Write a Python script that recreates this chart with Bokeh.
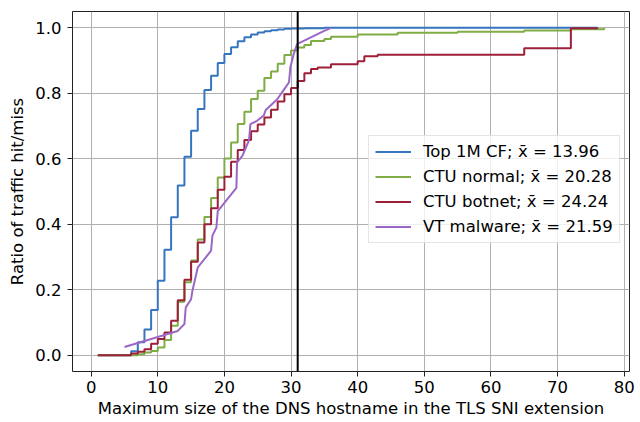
from bokeh.plotting import figure
from bokeh.models import Range1d, FixedTicker, PrintfTickFormatter, Span
from bokeh.embed import file_html
from bokeh.resources import INLINE

# ---- data ----
blue_x = [1, 6, 7, 8, 9, 10, 11, 12, 13, 14, 15, 16, 17, 18, 19, 20, 21, 22, 23, 24, 25, 26, 27, 28, 29, 30, 32, 35, 76]
blue_y = [0.0, 0.012, 0.039, 0.078, 0.138, 0.227, 0.322, 0.421, 0.518, 0.606, 0.686, 0.752, 0.810, 0.854, 0.893,
          0.920, 0.941, 0.959, 0.971, 0.980, 0.986, 0.990, 0.993, 0.995, 0.997, 0.998, 0.999, 1.0, 1.0]

green_x = [1, 7, 8, 9, 10, 11, 12, 13, 14, 15, 16, 17, 18, 19, 20, 21, 22, 23, 24, 25, 26, 27, 28, 29, 30,
           31, 32, 33, 35, 36, 40, 46, 55, 65, 72, 77]
green_y = [0.0, 0.003, 0.008, 0.013, 0.023, 0.046, 0.090, 0.163, 0.223, 0.289, 0.353, 0.422, 0.480, 0.543, 0.601,
           0.650, 0.706, 0.744, 0.783, 0.808, 0.847, 0.867, 0.890, 0.917, 0.931, 0.940, 0.948, 0.960, 0.966,
           0.973, 0.980, 0.985, 0.988, 0.992, 0.996, 1.0]

red_x = [1, 6, 7, 8, 9, 10, 11, 12, 13, 14, 15, 16, 17, 18, 19, 20, 21, 22, 23, 24, 25, 26, 27, 28, 29, 30,
         31, 32, 33, 34, 36, 40, 41, 43, 65, 72, 76]
red_y = [0.0, 0.005, 0.010, 0.018, 0.035, 0.049, 0.069, 0.105, 0.168, 0.230, 0.285, 0.344, 0.400, 0.449, 0.505,
         0.545, 0.591, 0.627, 0.657, 0.684, 0.705, 0.726, 0.750, 0.775, 0.797, 0.816, 0.838, 0.861, 0.874,
         0.879, 0.889, 0.898, 0.913, 0.918, 0.938, 0.999, 1.0]

purple_x = [5, 13, 14, 14.2, 15, 15.2, 16, 18, 18.2, 18.8, 19, 21.8, 21.9, 22.7, 23.7, 23.9, 24.9, 25.9, 26.2,
            27.9, 29.2, 29.7, 29.9, 30.4, 30.9, 32.9, 34.9, 36]
purple_y = [0.025, 0.074, 0.095, 0.146, 0.171, 0.197, 0.268, 0.319, 0.365, 0.390, 0.440, 0.511, 0.589, 0.609,
            0.657, 0.706, 0.716, 0.732, 0.749, 0.781, 0.819, 0.834, 0.880, 0.920, 0.950, 0.970, 0.990, 1.0]

series_labels = ["Top 1M CF; x\u0304 = 13.96", "CTU normal; x\u0304 = 20.28",
                 "CTU botnet; x\u0304 = 24.24", "VT malware; x\u0304 = 21.59"]
threshold_x = 31
x_ticks = [0, 10, 20, 30, 40, 50, 60, 70, 80]
y_ticks = [0.0, 0.2, 0.4, 0.6, 0.8, 1.0]

FONT = "DejaVu Sans"
FS = "16.5px"
colors = ["#3575c0", "#7fac45", "#9d2038", "#9b67c7"]

p = figure(width=640, height=422, output_backend="svg", toolbar_location=None,
           x_range=Range1d(-2.8, 80.8), y_range=Range1d(-0.05, 1.05),
           min_border_left=72, min_border_right=11, min_border_top=11, min_border_bottom=51)

p.step(blue_x, blue_y, mode="after", line_color=colors[0], line_width=2, legend_label=series_labels[0])
p.step(green_x, green_y, mode="after", line_color=colors[1], line_width=2, legend_label=series_labels[1])
p.step(red_x, red_y, mode="after", line_color=colors[2], line_width=2, legend_label=series_labels[2])
p.line(purple_x, purple_y, line_color=colors[3], line_width=2, legend_label=series_labels[3])

p.add_layout(Span(location=threshold_x, dimension="height", line_color="black", line_width=2))

# axes
p.xaxis.ticker = FixedTicker(ticks=x_ticks)
p.yaxis.ticker = FixedTicker(ticks=y_ticks)
p.yaxis.formatter = PrintfTickFormatter(format="%.1f")
for ax in (p.xaxis, p.yaxis):
    ax.major_label_text_font = FONT
    ax.major_label_text_font_size = FS
    ax.major_label_text_color = "black"
    ax.axis_label_text_font = FONT
    ax.axis_label_text_font_size = FS
    ax.axis_label_text_font_style = "normal"
    ax.axis_label_text_color = "black"
    ax.minor_tick_line_color = None
    ax.major_tick_in = 0
    ax.major_tick_out = 5
    ax.major_tick_line_color = "#222222"
    ax.axis_line_color = None
p.xaxis.axis_label = "Maximum size of the DNS hostname in the TLS SNI extension"
p.yaxis.axis_label = "Ratio of traffic hit/miss"
p.xaxis.major_label_standoff = 4
p.yaxis.major_label_standoff = 6
p.xaxis.axis_label_standoff = 3
p.yaxis.axis_label_standoff = 5

p.outline_line_color = "#222222"
p.outline_line_width = 1
p.xgrid.grid_line_color = "#b0b0b0"
p.ygrid.grid_line_color = "#b0b0b0"
p.xgrid.grid_line_width = 1
p.ygrid.grid_line_width = 1

# legend
lg = p.legend[0]
lg.location = (296, 128)
lg.label_text_font = FONT
lg.label_text_font_size = FS
lg.label_text_color = "black"
lg.glyph_width = 36
lg.glyph_height = 19
lg.label_height = 19
lg.spacing = 6
lg.padding = 6
lg.margin = 0
lg.label_standoff = 12
lg.border_line_color = "#cccccc"
lg.background_fill_alpha = 0.8

open("out.html", "w").write(file_html(p, INLINE))
